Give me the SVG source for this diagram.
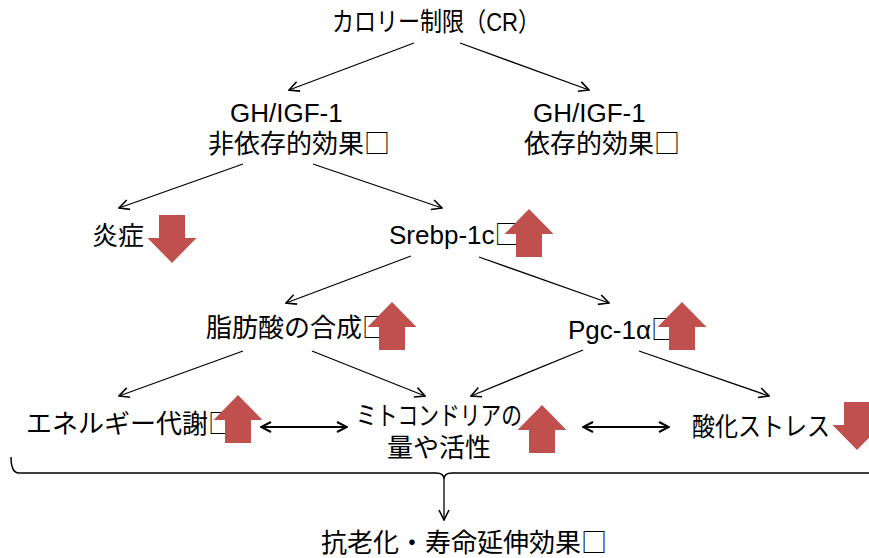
<svg xmlns="http://www.w3.org/2000/svg" width="869" height="558" viewBox="0 0 869 558">
<style>
text{font-family:"Liberation Sans","Noto Sans CJK JP",sans-serif;font-size:26px;fill:#000}
.b{font-family:"Noto Sans CJK JP",sans-serif}
.c{stroke:#000;stroke-width:1.3;fill:none;marker-end:url(#ah)}
.d{stroke:#000;stroke-width:2;fill:none;marker-start:url(#ah2);marker-end:url(#ah2)}
.r{fill:#C0504D}
</style>
<defs>
<marker id="ah" viewBox="0 0 12 12" refX="11" refY="6" markerWidth="12" markerHeight="12" markerUnits="userSpaceOnUse" orient="auto-start-reverse">
<path d="M1,1 L11,6 L1,11" fill="none" stroke="#000" stroke-width="1.6"/>
</marker>
<marker id="ah2" viewBox="0 0 12 12" refX="11" refY="6" markerWidth="12" markerHeight="12" markerUnits="userSpaceOnUse" orient="auto-start-reverse">
<path d="M1,1 L11,6 L1,11" fill="none" stroke="#000" stroke-width="2"/>
</marker>
<path id="up" d="M0,0 L24.5,25 L13,25 L13,48 L-13,48 L-13,25 L-24.5,25 Z"/>
<path id="dn" d="M0,0 L24.5,-25 L13,-25 L13,-48 L-13,-48 L-13,-25 L-24.5,-25 Z"/>
</defs>
<g id="connectors">
<line class="c" x1="414" y1="43" x2="289" y2="90"/>
<line class="c" x1="460" y1="43" x2="589" y2="90"/>
<line class="c" x1="243" y1="164" x2="119" y2="208"/>
<line class="c" x1="313" y1="164" x2="442" y2="208"/>
<line class="c" x1="411" y1="256" x2="286" y2="303"/>
<line class="c" x1="479" y1="257" x2="609" y2="303"/>
<line class="c" x1="243" y1="351" x2="119" y2="396"/>
<line class="c" x1="312" y1="351" x2="425" y2="396"/>
<line class="c" x1="583" y1="350" x2="471" y2="396"/>
<line class="c" x1="639" y1="351" x2="769" y2="396"/>
<line class="d" x1="261" y1="427" x2="347" y2="427"/>
<line class="d" x1="583" y1="427" x2="669" y2="427"/>
<path d="M11,457 Q11,473 19,473 L436,473 Q444,473 444,479 Q444,473 452,473 L869,473" fill="none" stroke="#000" stroke-width="1.5"/>
<line class="c" x1="444" y1="479" x2="444" y2="520"/>
</g>
<g id="n-cr"><text x="332" y="31" textLength="208" lengthAdjust="spacingAndGlyphs">カロリー制限（CR）</text></g>
<g id="n-indep"><text x="230" y="122">GH/IGF-1</text><text x="208" y="153">非依存的効果<tspan class="b">□</tspan></text></g>
<g id="n-dep"><text x="533" y="122">GH/IGF-1</text><text x="524" y="153">依存的効果<tspan class="b">□</tspan></text></g>
<g id="n-inflam"><text x="92" y="245">炎症</text><use href="#dn" class="r" x="172" y="263"/></g>
<g id="n-srebp"><text x="389" y="244">Srebp-1c<tspan class="b">□</tspan></text><use href="#up" class="r" x="529" y="209"/></g>
<g id="n-fatty"><text x="206" y="337">脂肪酸の合成<tspan class="b">□</tspan></text><use href="#up" class="r" x="392" y="302"/></g>
<g id="n-pgc"><text x="568" y="339">Pgc-1α<tspan class="b">□</tspan></text><use href="#up" class="r" x="682" y="302"/></g>
<g id="n-energy"><text x="26" y="433" class="b">エネルギー代謝□</text><use href="#up" class="r" x="238" y="395"/></g>
<g id="n-mito"><text x="356" y="425" textLength="166" lengthAdjust="spacingAndGlyphs">ミトコンドリアの</text><text x="387" y="457">量や活性</text><use href="#up" class="r" x="542" y="405"/></g>
<g id="n-ox"><text x="692" y="436" textLength="138" lengthAdjust="spacingAndGlyphs">酸化ストレス</text><use href="#dn" class="r" x="857" y="450"/></g>
<g id="n-result"><text x="321" y="552" class="b" font-size="25">抗老化・寿命延伸効果□</text></g>
</svg>
